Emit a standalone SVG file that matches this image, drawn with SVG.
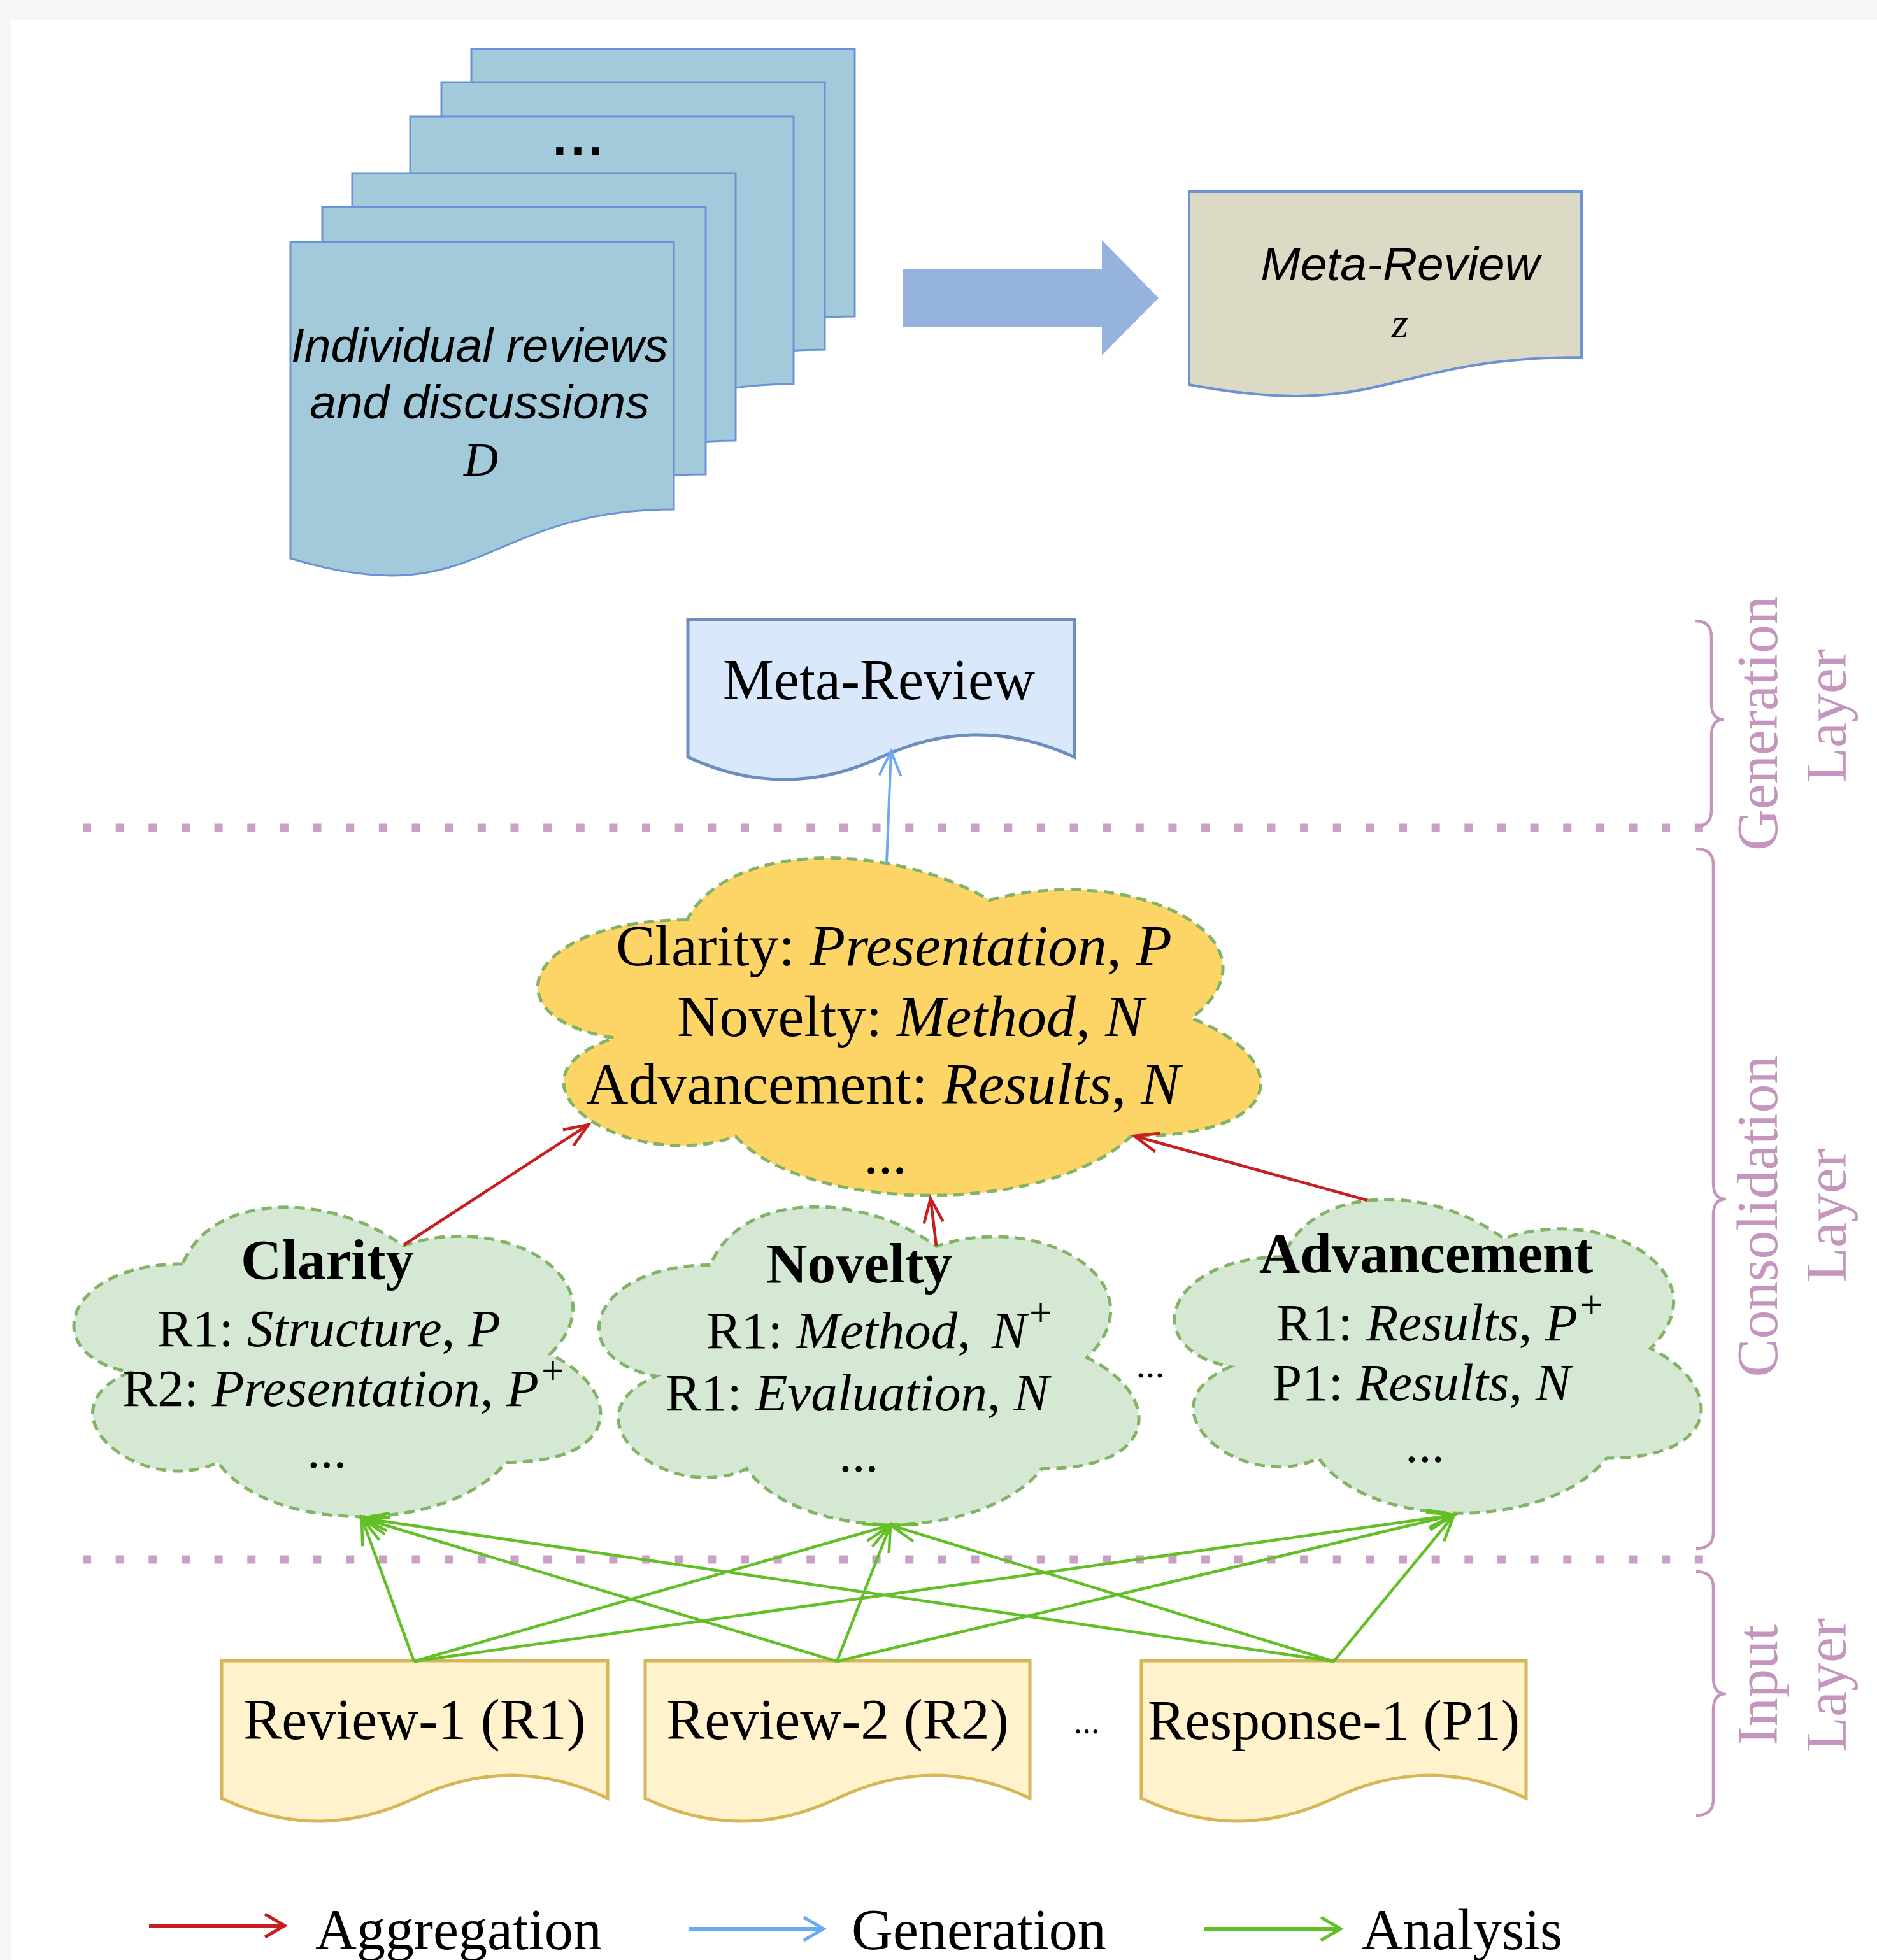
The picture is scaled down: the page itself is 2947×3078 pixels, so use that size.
<svg xmlns="http://www.w3.org/2000/svg" width="2947" height="3078" viewBox="0 0 2947 3078">
<style>
.serif{font-family:"Liberation Serif","Times New Roman",serif;fill:#000}
.sans{font-family:"Liberation Sans",Arial,sans-serif;fill:#000}
.it{font-style:italic}
.bd{font-weight:bold}
.sup{font-size:64px}
.stack{fill:#a3cada;stroke:#6a92d4;stroke-width:3}
.gcloud{fill:#d5e8d4;stroke:#82b366;stroke-width:5;stroke-dasharray:16 10}
.ycloud{fill:#fdd466;stroke:#82b366;stroke-width:5;stroke-dasharray:16 10}
.indoc{fill:#fff2cc;stroke:#d6b656;stroke-width:5}
.layer{font-family:"Liberation Serif","Times New Roman",serif;font-size:90px;fill:#c596bd}
.brace{fill:none;stroke:#c596bd;stroke-width:4.5}
.dots{stroke:#c9a1c5;stroke-width:13;stroke-dasharray:13 38.65}
.red{stroke:#c81e1e;stroke-width:4.5;fill:none}
.blue{stroke:#6aaaf5;stroke-width:4;fill:none}
.green{stroke:#62bf26;stroke-width:4.5;fill:none}
</style>
<defs>
<marker id="mr" viewBox="-40 -20 44 40" refX="0" refY="0" markerWidth="44" markerHeight="40" orient="auto" markerUnits="userSpaceOnUse" overflow="visible"><path d="M-38,-15 L0,0 L-38,15" fill="none" stroke="#c81e1e" stroke-width="4.5"/></marker>
<marker id="mb" viewBox="-40 -20 44 40" refX="0" refY="0" markerWidth="44" markerHeight="40" orient="auto" markerUnits="userSpaceOnUse" overflow="visible"><path d="M-38,-17 L0,0 L-38,17" fill="none" stroke="#6aaaf5" stroke-width="4"/></marker>
<marker id="mg" viewBox="-40 -20 44 40" refX="0" refY="0" markerWidth="44" markerHeight="40" orient="auto" markerUnits="userSpaceOnUse" overflow="visible"><path d="M-42,-14 L0,0 L-42,14" fill="none" stroke="#62bf26" stroke-width="4.5"/></marker>
<marker id="mrl" viewBox="-40 -20 44 40" refX="0" refY="0" markerWidth="44" markerHeight="40" orient="auto" markerUnits="userSpaceOnUse" overflow="visible"><path d="M-31,-18 L0,0 L-31,18" fill="none" stroke="#c81e1e" stroke-width="5"/></marker>
<marker id="mbl" viewBox="-40 -20 44 40" refX="0" refY="0" markerWidth="44" markerHeight="40" orient="auto" markerUnits="userSpaceOnUse" overflow="visible"><path d="M-31,-18 L0,0 L-31,18" fill="none" stroke="#6aaaf5" stroke-width="5"/></marker>
<marker id="mgl" viewBox="-40 -20 44 40" refX="0" refY="0" markerWidth="44" markerHeight="40" orient="auto" markerUnits="userSpaceOnUse" overflow="visible"><path d="M-31,-18 L0,0 L-31,18" fill="none" stroke="#62bf26" stroke-width="5"/></marker>
</defs>

<rect x="0" y="0" width="2947" height="3078" fill="#f6f6f6"/>
<rect x="18" y="32" width="2929" height="3046" fill="#ffffff"/>

<!-- top: stacked documents -->
<g id="stack-docs">
<path class="stack" d="M740,77 H1342 V497 C1041,497 1041,665 740,574 Z"/>
<path class="stack" d="M693,129 H1295 V549 C994,549 994,717 693,626 Z"/>
<path class="stack" d="M644,183 H1246 V603 C945,603 945,771 644,680 Z"/>
<path class="stack" d="M553,272 H1155 V692 C854,692 854,860 553,769 Z"/>
<path class="stack" d="M506,325 H1108 V745 C807,745 807,913 506,822 Z"/>
<path class="stack" d="M456,380 H1058 V800 C757,800 757,968 456,877 Z"/>
<text class="sans bd" x="910" y="243" font-size="80" text-anchor="middle" letter-spacing="6">...</text>
<text class="sans it" x="753" y="568" font-size="75" text-anchor="middle">Individual reviews</text>
<text class="sans it" x="753" y="657" font-size="75" text-anchor="middle">and discussions</text>
<text class="serif it" x="755" y="747" font-size="75" text-anchor="middle">D</text>
</g>

<g id="big-arrow">
<polygon points="1418,422 1730,422 1730,377 1819,468 1730,558 1730,513 1418,513" fill="#95b3de"/>
</g>

<g id="meta-review-z">
<path d="M1867,301 H2483 V561 C2175,561 2175,662 1867,604 Z" fill="#dcd9c4" stroke="#6a92d4" stroke-width="4"/>
<text class="sans it" x="2198" y="440" font-size="75" text-anchor="middle">Meta-Review</text>
<text class="serif it" x="2198" y="530" font-size="68" text-anchor="middle">z</text>
</g>

<!-- layer separators -->
<g id="separators">
<line class="dots" x1="130" y1="1300" x2="2675" y2="1300"/>
<line class="dots" x1="130" y1="2449" x2="2675" y2="2449"/>
</g>

<g id="layer-labels">
<path class="brace" d="M2661,975 Q2687,975 2687,1000 L2687,1105 Q2687,1130 2707,1130 Q2687,1130 2687,1155 L2687,1273 Q2687,1298 2661,1298"/>
<path class="brace" d="M2663,1333 Q2690,1333 2690,1358 L2690,1858 Q2690,1883 2710,1883 Q2690,1883 2690,1908 L2690,2407 Q2690,2432 2663,2432"/>
<path class="brace" d="M2663,2468 Q2690,2468 2690,2493 L2690,2635 Q2690,2660 2710,2660 Q2690,2660 2690,2685 L2690,2826 Q2690,2851 2663,2851"/>
<text class="layer" transform="translate(2790,1136) rotate(-90)" text-anchor="middle">Generation</text>
<text class="layer" transform="translate(2898,1124) rotate(-90)" text-anchor="middle">Layer</text>
<text class="layer" transform="translate(2790,1910) rotate(-90)" text-anchor="middle">Consolidation</text>
<text class="layer" transform="translate(2898,1909) rotate(-90)" text-anchor="middle">Layer</text>
<text class="layer" transform="translate(2790,2646) rotate(-90)" text-anchor="middle">Input</text>
<text class="layer" transform="translate(2898,2646) rotate(-90)" text-anchor="middle">Layer</text>
</g>

<!-- generation layer -->
<g id="meta-review">
<path d="M1080,973 H1687 V1189 Q1535.3,1118.8 1383.5,1189 Q1231.8,1259.2 1080,1189 Z" fill="#dae8fc" stroke="#6c8ebf" stroke-width="5"/>
<text class="serif" x="1380" y="1098" font-size="90" text-anchor="middle">Meta-Review</text>
</g>

<!-- consolidation layer -->
<g id="aggregate-cloud">
<path class="ycloud" d="M1078.8,1444.5 C825.4,1444.5 762,1599 964.7,1629.9 C762,1697.9 990.1,1846.2 1154.8,1784.4 C1268.8,1908 1648.9,1908 1775.6,1784.4 C2029,1784.4 2029,1660.8 1870.6,1599 C2029,1475.4 1775.6,1351.8 1553.9,1413.6 C1395.5,1320.9 1142.1,1320.9 1078.8,1444.5 Z"/>
<text class="serif" x="967" y="1516" font-size="92">Clarity: <tspan class="it">Presentation</tspan>, <tspan class="it">P</tspan></text>
<text class="serif" x="1063" y="1627" font-size="92">Novelty: <tspan class="it">Method</tspan>, <tspan class="it">N</tspan></text>
<text class="serif" x="920" y="1733" font-size="92">Advancement: <tspan class="it">Results</tspan>, <tspan class="it">N</tspan></text>
<text class="serif" x="1390" y="1843" font-size="90" text-anchor="middle">...</text>
</g>

<g id="clarity-cloud">
<path class="gcloud" d="M286.8,1984.8 C102.2,1984.8 56,2126.5 203.7,2154.9 C56,2217.2 222.1,2353.3 342.1,2296.6 C425.2,2410 702.1,2410 794.4,2296.6 C979,2296.6 979,2183.2 863.6,2126.5 C979,2013.1 794.4,1899.7 632.9,1956.4 C517.5,1871.4 332.9,1871.4 286.8,1984.8 Z"/>
<text class="serif bd" x="514" y="2008" font-size="89" text-anchor="middle">Clarity</text>
<text class="serif" x="247" y="2114" font-size="83">R1: <tspan class="it">Structure</tspan>, <tspan class="it">P</tspan></text>
<text class="serif" x="192" y="2208" font-size="83">R2: <tspan class="it">Presentation</tspan>, <tspan class="it">P</tspan><tspan class="sup" dx="4" dy="-34">+</tspan></text>
<text class="serif" x="513" y="2305" font-size="83" text-anchor="middle">...</text>
</g>

<g id="novelty-cloud">
<path class="gcloud" d="M1115.5,1986.5 C926.3,1986.5 879,2132 1030.4,2161.1 C879,2225.1 1049.3,2364.8 1172.3,2306.6 C1257.4,2423 1541.2,2423 1635.8,2306.6 C1825,2306.6 1825,2190.2 1706.8,2132 C1825,2015.6 1635.8,1899.2 1470.3,1957.4 C1352,1870.1 1162.8,1870.1 1115.5,1986.5 Z"/>
<text class="serif bd" x="1349" y="2014" font-size="89" text-anchor="middle">Novelty</text>
<text class="serif" x="1109" y="2117" font-size="83">R1: <tspan class="it">Method</tspan>, <tspan class="it" dx="12">N</tspan><tspan class="sup" dx="4" dy="-34">+</tspan></text>
<text class="serif" x="1045" y="2215" font-size="83">R1: <tspan class="it">Evaluation</tspan>, <tspan class="it">N</tspan></text>
<text class="serif" x="1348" y="2311" font-size="83" text-anchor="middle">...</text>
</g>

<text class="serif" x="1806" y="2163" font-size="60" text-anchor="middle">...</text>

<g id="advancement-cloud">
<path class="gcloud" d="M2014.8,1973.8 C1830.2,1973.8 1784,2117.5 1931.7,2146.3 C1784,2209.5 1950.1,2347.5 2070.1,2290 C2153.2,2405 2430.1,2405 2522.4,2290 C2707,2290 2707,2175 2591.6,2117.5 C2707,2002.5 2522.4,1887.5 2360.9,1945 C2245.5,1858.8 2060.9,1858.8 2014.8,1973.8 Z"/>
<text class="serif bd" x="2239" y="1998" font-size="89" text-anchor="middle">Advancement</text>
<text class="serif" x="2004" y="2105" font-size="83">R1: <tspan class="it">Results</tspan>, <tspan class="it">P</tspan><tspan class="sup" dx="4" dy="-34">+</tspan></text>
<text class="serif" x="1998" y="2199" font-size="83">P1: <tspan class="it">Results</tspan>, <tspan class="it">N</tspan></text>
<text class="serif" x="2237" y="2296" font-size="83" text-anchor="middle">...</text>
</g>

<!-- input layer -->
<g id="review-1">
<path class="indoc" d="M348,2608 H954 V2824 Q802.5,2752 651,2824 Q499.5,2896 348,2824 Z"/>
<text class="serif" x="651" y="2731" font-size="90" text-anchor="middle">Review-1 (R1)</text>
</g>
<g id="review-2">
<path class="indoc" d="M1013,2608 H1617 V2824 Q1466,2752 1315,2824 Q1164,2896 1013,2824 Z"/>
<text class="serif" x="1315" y="2731" font-size="90" text-anchor="middle">Review-2 (R2)</text>
</g>
<text class="serif" x="1706" y="2722" font-size="55" text-anchor="middle">...</text>
<g id="response-1">
<path class="indoc" d="M1792,2608 H2396 V2824 Q2245,2752 2094,2824 Q1943,2896 1792,2824 Z"/>
<text class="serif" x="2094" y="2731" font-size="88" text-anchor="middle">Response-1 (P1)</text>
</g>

<!-- connectors -->
<g id="connectors">
<line class="blue" x1="1392" y1="1356" x2="1399" y2="1180" marker-end="url(#mb)"/>
<line class="red" x1="634" y1="1955" x2="924" y2="1766" marker-end="url(#mr)"/>
<line class="red" x1="1470" y1="1956" x2="1461" y2="1882" marker-end="url(#mr)"/>
<line class="red" x1="2147" y1="1885" x2="1781" y2="1784" marker-end="url(#mr)"/>
<line class="green" x1="650" y1="2609" x2="568" y2="2384" marker-end="url(#mg)"/>
<line class="green" x1="650" y1="2609" x2="1398" y2="2395" marker-end="url(#mg)"/>
<line class="green" x1="650" y1="2609" x2="2283" y2="2379" marker-end="url(#mg)"/>
<line class="green" x1="1314" y1="2609" x2="568" y2="2384" marker-end="url(#mg)"/>
<line class="green" x1="1314" y1="2609" x2="1398" y2="2395" marker-end="url(#mg)"/>
<line class="green" x1="1314" y1="2609" x2="2283" y2="2379" marker-end="url(#mg)"/>
<line class="green" x1="2094" y1="2609" x2="568" y2="2384" marker-end="url(#mg)"/>
<line class="green" x1="2094" y1="2609" x2="1398" y2="2395" marker-end="url(#mg)"/>
<line class="green" x1="2094" y1="2609" x2="2283" y2="2379" marker-end="url(#mg)"/>
</g>

<!-- legend -->
<g id="legend">
<line x1="234" y1="3024" x2="447" y2="3024" stroke="#c81e1e" stroke-width="6" marker-end="url(#mrl)"/>
<text class="serif" x="495" y="3061" font-size="90">Aggregation</text>
<line x1="1081" y1="3029" x2="1293" y2="3029" stroke="#6aaaf5" stroke-width="6" marker-end="url(#mbl)"/>
<text class="serif" x="1337" y="3061" font-size="90">Generation</text>
<line x1="1891" y1="3029" x2="2105" y2="3029" stroke="#62bf26" stroke-width="6" marker-end="url(#mgl)"/>
<text class="serif" x="2138" y="3061" font-size="90">Analysis</text>
</g>
</svg>
